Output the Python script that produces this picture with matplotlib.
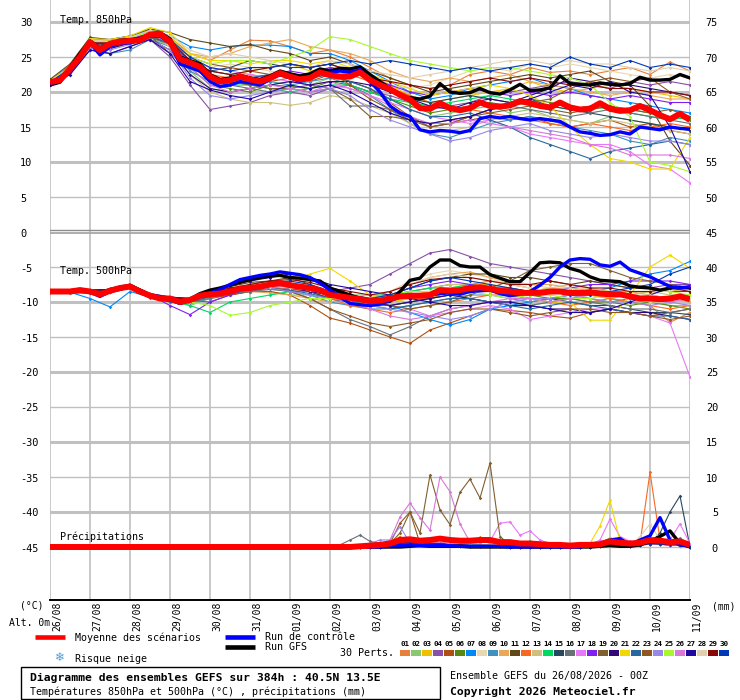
import matplotlib
matplotlib.use("Agg")
import matplotlib.pyplot as plt
from matplotlib.lines import Line2D
from matplotlib.patches import Rectangle

# ---------------- data ----------------
dates = ["26/08", "27/08", "28/08", "29/08", "30/08", "31/08", "01/09", "02/09", "03/09",
         "04/09", "05/09", "06/09", "07/09", "08/09", "09/09", "10/09", "11/09"]

pert_labels = ["01", "02", "03", "04", "05", "06", "07", "08", "09", "10",
               "11", "12", "13", "14", "15", "16", "17", "18", "19", "20",
               "21", "22", "23", "24", "25", "26", "27", "28", "29", "30"]
pert_colors = ["#E8803A", "#88C870", "#F0C000", "#8850A8", "#B05010", "#588810", "#0088F8",
               "#E8D8B0", "#4090C0", "#E8A858", "#604818", "#F86820", "#D0C080", "#00D860",
               "#284860", "#687078", "#E878F8", "#8020F0", "#806030", "#300878", "#F0D800",
               "#2868A0", "#905820", "#9888E8", "#A8F830", "#D878D8", "#2008A0", "#E0D0B0",
               "#880808", "#0038B8"]

hours6 = list(range(0, 385, 6))
hours12 = list(range(0, 385, 12))
hours_pr_pert = list(range(168, 385, 6))

# mean / control / GFS (6 h)
mean850 = [21.4, 21.7, 23.3, 25.0, 27.1, 26.0, 26.9, 27.2, 27.3, 27.4,
           28.2, 28.3, 27.2, 24.7, 24.2, 23.6, 22.2, 21.5, 21.7, 22.2,
           21.8, 21.5, 22.0, 22.7, 22.2, 21.8, 22.0, 22.8, 22.4, 22.2,
           22.2, 22.8, 21.7, 21.0, 20.4, 19.6, 18.9, 17.7, 17.6, 18.4,
           17.7, 17.4, 17.7, 18.5, 18.0, 17.9, 18.1, 18.7, 18.4, 18.0,
           17.8, 18.5, 17.8, 17.5, 17.6, 18.4, 17.6, 17.3, 17.4, 18.0,
           17.4, 16.7, 16.1, 16.9, 16.0]
ctrl850 = [21.2, 21.5, 23.0, 25.0, 27.0, 25.3, 26.5, 27.0, 27.0, 27.5,
           28.0, 28.0, 27.0, 24.0, 23.5, 23.0, 21.5, 20.8, 21.0, 21.5,
           21.3, 21.0, 21.8, 22.5, 22.0, 21.5, 22.0, 22.7, 22.8, 23.0,
           22.8, 23.2, 21.5, 20.0, 18.0, 17.0, 16.5, 14.6, 14.3, 14.5,
           14.4, 14.2, 14.5, 16.2, 16.5, 16.3, 16.5, 16.2, 16.0, 16.2,
           16.0, 15.8, 15.0, 14.3, 14.1, 13.8, 13.9, 14.3, 14.0, 15.0,
           14.8, 14.6, 15.0, 14.8, 14.7]
gfs850 = [21.0, 21.4, 23.5, 25.5, 27.3, 26.3, 27.0, 27.4, 27.5, 27.6,
          28.3, 28.5, 27.6, 25.0, 24.5, 24.0, 22.5, 21.8, 22.0, 22.4,
          22.0, 21.8, 22.3, 23.0, 22.6, 22.3, 22.6, 23.3, 23.0, 23.4,
          23.3, 23.6, 22.5, 21.5, 20.5, 19.4, 19.2, 19.0, 19.4, 21.2,
          20.0, 19.8, 19.9, 20.5, 19.9, 19.7, 20.3, 21.1, 20.2, 20.3,
          20.6, 22.3, 21.2, 21.1, 21.0, 21.3, 21.1, 21.0, 21.2, 22.1,
          21.7, 21.7, 21.8, 22.5, 22.0]
mean500 = [-8.5, -8.5, -8.5, -8.3, -8.5, -8.9, -8.4, -8.0, -7.8, -8.5,
           -9.1, -9.5, -9.5, -10.0, -9.7, -9.1, -8.9, -8.8, -8.5, -8.1,
           -8.0, -7.8, -7.5, -7.3, -7.6, -7.8, -8.0, -8.3, -9.0, -9.2,
           -9.4, -9.6, -9.9, -9.8, -9.5, -9.2, -9.1, -9.1, -9.0, -8.3,
           -8.4, -8.3, -8.0, -7.9, -8.1, -8.4, -8.5, -8.7, -8.7, -8.7,
           -8.5, -8.5, -8.7, -8.7, -8.6, -8.8, -8.9, -8.9, -9.2, -9.5,
           -9.5, -9.6, -9.5, -9.2, -9.6]
ctrl500 = [-8.4, -8.6, -8.6, -8.4, -8.6, -9.2, -8.5, -8.2, -7.8, -8.6,
           -9.2, -9.6, -9.7, -10.2, -9.8, -9.2, -8.7, -8.2, -7.5, -6.8,
           -6.5, -6.2, -6.0, -5.7, -5.9, -6.1, -6.5, -7.3, -8.3, -9.3,
           -10.2, -10.4, -10.5, -10.3, -9.8, -9.3, -9.0, -9.1, -9.0, -8.8,
           -8.7, -8.9, -8.5, -8.4, -8.3, -8.8, -9.1, -8.9, -8.5, -7.6,
           -6.5, -5.0, -4.0, -3.8, -3.9, -4.7, -4.9, -4.3, -5.4, -5.9,
           -6.4, -7.1, -7.8, -8.0, -7.8]
gfs500 = [-8.6, -8.6, -8.4, -8.2, -8.5, -8.8, -8.2, -7.9, -7.6, -8.3,
          -9.0, -9.4, -9.6, -10.2, -9.6, -8.8, -8.3, -8.0, -7.6, -7.2,
          -6.8, -6.5, -6.3, -6.2, -6.5, -6.6, -6.8, -7.0, -8.0, -8.5,
          -9.0, -9.5, -9.9, -10.0, -9.9, -8.5, -6.9, -6.6, -5.0, -4.0,
          -4.0, -4.8, -5.0, -5.0, -6.1, -6.6, -7.1, -7.1, -5.8, -4.4,
          -4.3, -4.4, -5.2, -5.6, -6.4, -6.9, -7.0, -7.1, -7.7, -7.9,
          -8.0, -8.3, -8.0, -7.9, -8.0]
mean_pr = [0, 0, 0, 0, 0, 0, 0, 0, 0, 0,
           0, 0, 0, 0, 0, 0, 0, 0, 0, 0,
           0, 0, 0, 0, 0, 0, 0, 0, 0, 0,
           0, 0.1, 0.2, 0.3, 0.5, 1.0, 1.1, 0.9, 1.0, 1.2,
           1.0, 0.9, 0.9, 1.0, 1.0, 0.7, 0.7, 0.5, 0.5, 0.4,
           0.3, 0.3, 0.2, 0.3, 0.3, 0.4, 0.8, 0.6, 0.5, 0.6,
           1.0, 0.9, 0.7, 0.8, 0.3]
ctrl_pr = [0, 0, 0, 0, 0, 0, 0, 0, 0, 0,
           0, 0, 0, 0, 0, 0, 0, 0, 0, 0,
           0, 0, 0, 0, 0, 0, 0, 0, 0, 0,
           0, 0, 0, 0, 0.1, 0.2, 0.3, 0.2, 0.2, 0.2,
           0.2, 0.1, 0.1, 0.1, 0.1, 0.1, 0, 0, 0, 0,
           0, 0, 0, 0, 0.3, 0.5, 1.0, 1.2, 0.3, 1.0,
           1.6, 4.2, 1.0, 0.3, 0.1]
gfs_pr = [0, 0, 0, 0, 0, 0, 0, 0, 0, 0,
          0, 0, 0, 0, 0, 0, 0, 0, 0, 0,
          0, 0, 0, 0, 0, 0, 0, 0, 0, 0,
          0, 0, 0, 0, 0, 0, 0.1, 0.2, 0.1, 0.1,
          0.1, 0.1, 0, 0, 0, 0, 0, 0, 0, 0,
          0, 0, 0, 0, 0, 0.1, 0.2, 0.1, 0.1, 0.3,
          0.8, 1.5, 2.3, 0.5, 0]

# perturbations, 850 hPa (12 h)
t850_01 = [21.6, 23.5, 27.4, 27.2, 27.8, 28.6, 27.8, 25.5, 24.5, 26.0, 27.4, 27.3, 26.5, 25.5, 26.0, 25.0, 23.5, 22.0, 21.0, 20.5, 21.0, 22.5, 23.0, 22.5, 23.5, 22.8, 23.0, 22.5, 23.0, 23.5, 22.5, 24.3, 23.0]
t850_02 = [21.2, 23.0, 26.5, 26.5, 27.0, 27.8, 26.5, 23.0, 20.5, 20.0, 20.5, 21.0, 21.5, 21.0, 22.0, 21.5, 20.5, 19.0, 17.5, 16.5, 17.0, 17.5, 18.0, 17.0, 17.5, 16.5, 16.0, 15.5, 16.5, 16.0, 15.5, 15.0, 14.5]
t850_03 = [21.5, 23.6, 27.5, 27.3, 27.6, 29.0, 28.0, 25.0, 23.0, 22.5, 23.0, 23.5, 24.0, 23.0, 23.5, 23.0, 22.5, 21.0, 19.5, 18.5, 19.0, 19.5, 20.0, 20.5, 21.5, 20.5, 20.0, 20.5, 21.0, 20.5, 20.0, 19.5, 19.0]
t850_04 = [21.0, 22.5, 26.0, 25.5, 26.5, 27.5, 25.0, 21.0, 17.5, 18.0, 18.5, 19.5, 20.0, 19.5, 20.5, 21.0, 20.0, 19.5, 18.5, 17.5, 18.0, 18.5, 19.5, 20.0, 20.5, 21.0, 21.5, 21.0, 20.5, 21.5, 21.0, 21.5, 21.0]
t850_05 = [21.3, 23.0, 26.8, 26.5, 27.0, 28.0, 27.0, 24.0, 22.0, 21.5, 21.0, 21.5, 22.0, 21.5, 22.5, 21.5, 20.5, 18.5, 16.5, 15.0, 15.5, 16.0, 16.5, 16.0, 16.5, 15.5, 15.0, 15.5, 16.0, 15.0, 15.5, 14.5, 14.0]
t850_06 = [21.4, 23.2, 26.8, 26.5, 27.2, 28.0, 26.8, 23.5, 21.0, 20.5, 20.0, 21.0, 20.8, 20.5, 21.5, 21.0, 20.0, 19.0, 18.0, 17.0, 17.5, 18.0, 18.5, 18.0, 19.0, 18.5, 18.0, 17.5, 18.0, 17.5, 17.0, 16.5, 16.0]
t850_07 = [21.6, 23.8, 27.5, 27.5, 28.0, 28.8, 28.0, 26.5, 26.0, 26.5, 26.7, 26.7, 26.5, 25.5, 25.5, 24.5, 23.0, 21.5, 20.0, 19.0, 19.5, 20.5, 21.0, 21.5, 22.0, 21.0, 20.5, 19.5, 19.0, 18.5, 18.0, 17.5, 17.0]
t850_08 = [21.2, 23.0, 26.5, 26.5, 27.5, 28.5, 27.5, 24.5, 23.5, 24.0, 23.5, 23.0, 22.5, 22.0, 23.0, 22.5, 21.5, 21.0, 20.5, 21.0, 22.0, 23.0, 23.5, 23.0, 24.0, 23.5, 24.0, 23.5, 23.0, 22.5, 22.0, 22.5, 22.0]
t850_09 = [21.0, 22.8, 26.0, 25.5, 26.0, 27.5, 26.5, 23.0, 21.5, 21.0, 21.5, 21.5, 21.0, 21.5, 22.0, 21.0, 19.5, 17.5, 15.5, 14.0, 13.5, 14.5, 15.5, 16.0, 16.5, 16.0, 15.0, 14.5, 14.0, 13.0, 12.5, 13.5, 13.0]
t850_10 = [21.5, 23.4, 27.2, 27.0, 27.5, 28.5, 27.5, 25.5, 25.0, 25.5, 26.5, 27.0, 27.5, 26.5, 26.0, 25.5, 24.5, 23.0, 22.0, 21.5, 22.0, 21.5, 22.0, 22.5, 21.5, 21.0, 20.5, 20.0, 19.5, 20.0, 19.5, 19.0, 19.0]
t850_11 = [21.8, 24.0, 27.8, 27.5, 28.0, 29.0, 28.5, 27.5, 27.0, 26.5, 26.8, 26.0, 25.5, 24.5, 25.0, 24.0, 23.0, 22.0, 21.0, 20.0, 20.5, 21.0, 21.5, 22.0, 22.5, 22.0, 22.5, 23.0, 21.5, 21.0, 18.0, 13.0, 9.5]
t850_12 = [21.3, 23.1, 26.8, 26.5, 27.2, 28.0, 27.0, 24.0, 22.5, 22.0, 22.5, 22.0, 22.5, 22.0, 22.5, 22.5, 21.5, 20.5, 19.5, 18.5, 18.0, 17.5, 17.0, 16.5, 16.0, 15.5, 15.0, 15.5, 15.0, 14.5, 15.0, 15.5, 15.0]
t850_13 = [21.2, 22.8, 26.5, 26.2, 26.8, 28.0, 26.5, 22.5, 20.0, 19.0, 18.5, 18.5, 18.1, 18.5, 19.5, 19.0, 18.0, 17.0, 15.5, 14.0, 14.5, 15.0, 16.0, 16.5, 17.0, 16.5, 16.0, 15.5, 16.0, 15.5, 15.0, 14.5, 14.0]
t850_14 = [21.4, 23.2, 27.0, 26.8, 27.2, 28.0, 27.0, 24.5, 22.5, 21.0, 21.0, 20.5, 20.0, 20.5, 21.0, 21.0, 20.0, 19.0, 18.5, 18.0, 18.5, 19.0, 19.5, 19.0, 18.5, 18.0, 17.5, 18.0, 17.5, 17.0, 16.5, 16.0, 16.5]
t850_15 = [21.3, 23.0, 26.7, 26.5, 27.0, 27.8, 27.0, 24.5, 23.0, 23.5, 24.5, 24.0, 23.5, 23.5, 24.0, 23.0, 22.0, 20.5, 19.0, 18.5, 19.0, 19.5, 19.0, 18.5, 19.0, 18.0, 17.5, 17.0, 16.5, 16.0, 15.5, 15.0, 14.5]
t850_16 = [21.2, 23.0, 26.5, 26.3, 27.0, 27.8, 26.8, 24.0, 22.0, 21.0, 20.5, 20.0, 20.5, 21.0, 20.5, 18.0, 18.0, 17.5, 16.5, 15.0, 15.5, 16.5, 17.5, 18.0, 17.5, 17.0, 16.5, 17.0, 17.5, 17.0, 16.5, 16.0, 15.5]
t850_17 = [21.4, 23.3, 27.0, 27.0, 27.5, 28.5, 27.5, 24.5, 23.5, 23.0, 22.5, 22.0, 21.5, 21.0, 21.5, 20.5, 19.5, 18.5, 17.5, 16.5, 16.0, 15.5, 16.0, 15.0, 14.0, 13.5, 13.0, 12.5, 12.5, 11.5, 9.5, 9.0, 7.0]
t850_18 = [21.3, 23.2, 27.0, 26.8, 27.5, 28.5, 27.5, 24.0, 22.0, 21.5, 22.0, 22.5, 23.0, 22.5, 23.5, 23.0, 22.0, 21.0, 20.0, 19.5, 20.0, 20.5, 20.0, 19.5, 20.0, 19.5, 20.0, 19.5, 19.0, 19.5, 19.0, 18.5, 18.5]
t850_19 = [21.5, 23.5, 27.0, 27.0, 27.5, 28.0, 25.5, 23.5, 22.0, 21.5, 21.0, 20.5, 20.5, 20.0, 20.5, 19.0, 16.5, 16.5, 16.0, 15.5, 16.0, 16.5, 17.0, 17.5, 18.0, 17.5, 17.0, 17.5, 18.0, 17.5, 17.0, 17.5, 16.5]
t850_20 = [21.2, 22.8, 26.5, 26.2, 27.0, 27.5, 26.0, 22.5, 20.5, 20.0, 20.5, 21.0, 21.5, 21.0, 21.5, 21.5, 21.0, 20.0, 19.0, 18.0, 17.5, 18.5, 19.0, 18.5, 19.5, 20.5, 22.0, 21.5, 21.0, 21.0, 20.5, 20.0, 19.5]
t850_21 = [21.6, 23.6, 27.6, 27.5, 28.0, 29.2, 28.5, 25.5, 24.5, 24.5, 24.0, 24.5, 24.5, 24.0, 24.5, 23.5, 22.5, 21.5, 20.5, 19.5, 20.0, 20.5, 21.0, 20.5, 19.5, 18.0, 15.0, 12.5, 10.5, 10.0, 9.0, 9.0, 13.5]
t850_22 = [21.3, 23.1, 26.8, 26.7, 27.2, 28.0, 27.0, 24.5, 23.0, 22.5, 22.0, 22.5, 22.5, 22.0, 22.5, 21.5, 20.5, 19.0, 17.5, 16.5, 16.5, 17.0, 16.0, 15.0, 13.5, 12.5, 11.5, 10.5, 11.5, 12.0, 12.5, 13.0, 12.5]
t850_23 = [21.5, 23.2, 26.8, 26.8, 27.3, 28.0, 27.2, 25.0, 24.0, 23.5, 23.0, 22.5, 22.0, 22.5, 23.0, 21.0, 19.0, 17.5, 16.0, 15.0, 15.5, 16.5, 17.5, 18.0, 18.5, 19.0, 20.5, 21.5, 22.0, 21.5, 22.0, 20.0, 19.0]
t850_24 = [21.2, 22.9, 26.5, 26.0, 26.8, 27.5, 26.0, 22.0, 19.5, 19.0, 19.5, 20.0, 20.5, 20.0, 20.5, 19.5, 17.5, 16.0, 15.0, 14.0, 13.0, 13.5, 14.5, 15.0, 15.5, 14.5, 14.0, 13.5, 14.0, 13.5, 13.0, 13.0, 12.5]
t850_25 = [21.5, 23.4, 27.3, 27.2, 27.8, 28.5, 27.5, 25.0, 24.0, 24.5, 24.5, 24.0, 25.0, 26.0, 27.9, 27.5, 26.5, 25.5, 24.5, 24.0, 23.5, 23.0, 23.5, 23.5, 23.0, 22.5, 22.0, 21.0, 18.5, 16.5, 10.0, 9.5, 8.6]
t850_26 = [21.3, 23.0, 26.8, 26.5, 27.3, 28.3, 27.0, 23.5, 21.0, 20.0, 20.5, 21.0, 20.5, 20.0, 21.0, 20.5, 19.5, 18.0, 16.5, 15.5, 15.5, 16.0, 15.5, 15.0, 14.5, 14.0, 13.5, 12.5, 12.0, 11.0, 11.0, 11.0, 10.5]
t850_27 = [21.0, 22.5, 26.0, 25.5, 26.5, 27.5, 25.5, 21.5, 20.3, 19.5, 19.0, 20.0, 21.0, 20.5, 21.0, 20.0, 18.5, 17.0, 16.0, 15.5, 16.0, 16.5, 17.5, 18.0, 19.0, 20.0, 21.0, 20.5, 21.5, 20.0, 19.5, 15.0, 8.6]
t850_28 = [21.5, 23.5, 27.5, 27.2, 27.8, 28.8, 28.0, 26.0, 25.0, 25.5, 25.0, 24.5, 24.0, 23.5, 24.5, 24.0, 23.0, 22.5, 22.0, 22.5, 23.0, 23.5, 24.0, 24.5, 24.5, 24.0, 24.5, 24.0, 24.0, 23.5, 23.0, 23.5, 23.0]
t850_29 = [21.4, 23.3, 27.0, 27.0, 27.5, 28.3, 27.3, 24.5, 23.0, 22.5, 23.0, 23.5, 24.0, 23.5, 24.0, 23.0, 22.0, 21.5, 21.0, 20.5, 21.0, 21.5, 22.0, 21.5, 22.0, 21.5, 21.0, 21.0, 20.5, 20.5, 20.0, 20.0, 19.5]
t850_30 = [21.4, 23.3, 27.0, 26.8, 27.3, 28.3, 27.5, 25.0, 23.5, 23.0, 23.5, 23.5, 24.0, 23.5, 24.0, 24.5, 24.0, 24.5, 24.0, 23.5, 23.0, 23.5, 23.0, 23.5, 24.0, 23.5, 25.0, 24.0, 23.5, 24.5, 23.5, 24.0, 23.5]

# perturbations, 500 hPa (12 h)
t500_01 = [-8.3, -8.4, -8.3, -8.2, -7.5, -9.0, -9.5, -9.5, -8.5, -8.0, -7.8, -7.5, -7.8, -8.5, -9.5, -10.0, -10.5, -10.0, -9.5, -9.5, -8.5, -7.5, -7.0, -7.5, -8.0, -8.5, -9.0, -9.0, -9.5, -10.0, -10.5, -12.9, -11.5]
t500_02 = [-8.6, -8.6, -8.5, -8.6, -8.0, -9.3, -10.0, -10.5, -9.5, -9.0, -8.5, -8.5, -9.0, -9.0, -9.5, -10.0, -10.5, -10.5, -10.0, -9.5, -9.0, -9.5, -10.0, -10.5, -10.5, -10.0, -9.5, -9.0, -9.5, -10.0, -10.0, -10.5, -10.5]
t500_03 = [-8.5, -8.4, -8.6, -8.3, -7.8, -9.0, -9.5, -9.8, -9.0, -8.5, -8.0, -7.8, -8.0, -8.3, -8.8, -9.2, -9.5, -9.5, -9.0, -8.5, -8.0, -7.5, -7.5, -8.0, -8.5, -8.0, -8.5, -9.0, -9.5, -9.0, -8.5, -8.5, -8.0]
t500_04 = [-8.4, -8.5, -8.4, -8.3, -7.6, -8.9, -9.5, -9.8, -10.0, -9.0, -8.5, -8.0, -8.0, -8.5, -8.5, -8.0, -7.5, -6.0, -4.5, -3.0, -2.5, -3.5, -4.5, -5.0, -5.5, -6.0, -6.5, -7.0, -7.5, -8.0, -8.0, -7.5, -7.5]
t500_05 = [-8.6, -8.7, -8.7, -8.6, -8.0, -9.4, -10.0, -10.0, -9.5, -9.0, -8.5, -8.5, -9.0, -10.5, -12.3, -13.0, -14.0, -15.0, -15.9, -14.0, -13.0, -12.0, -11.0, -11.2, -11.5, -12.0, -12.3, -11.5, -11.0, -11.5, -12.0, -11.5, -11.0]
t500_06 = [-8.5, -8.5, -8.4, -8.4, -7.8, -9.2, -9.7, -9.8, -9.0, -8.3, -7.5, -7.0, -7.5, -8.0, -9.0, -9.5, -9.5, -9.0, -8.5, -8.0, -7.5, -7.5, -8.0, -8.5, -9.0, -9.5, -9.5, -10.0, -10.0, -10.5, -10.0, -10.5, -11.0]
t500_07 = [-8.5, -8.6, -9.5, -10.7, -8.5, -9.3, -9.8, -9.8, -9.0, -8.5, -8.0, -7.8, -8.0, -8.5, -9.5, -10.0, -10.5, -10.5, -11.5, -12.5, -13.3, -12.5, -11.0, -10.5, -10.0, -9.5, -9.0, -8.5, -8.0, -7.0, -6.0, -5.5, -4.2]
t500_08 = [-8.4, -8.4, -8.3, -8.2, -7.6, -8.9, -9.3, -9.5, -8.7, -8.2, -7.8, -7.5, -7.8, -8.0, -8.5, -9.0, -9.5, -8.5, -7.0, -6.0, -5.5, -6.0, -6.5, -7.5, -8.0, -8.5, -8.0, -8.5, -9.0, -9.5, -10.0, -10.0, -10.5]
t500_09 = [-8.6, -8.6, -8.7, -8.5, -8.0, -9.2, -9.6, -10.2, -9.5, -8.8, -8.3, -8.0, -8.5, -9.0, -10.0, -10.5, -11.0, -11.0, -10.5, -10.0, -9.5, -9.0, -9.0, -9.5, -10.0, -9.5, -9.0, -9.5, -10.0, -9.5, -9.0, -9.5, -9.0]
t500_10 = [-8.5, -8.5, -8.4, -8.3, -7.7, -9.0, -9.5, -9.5, -8.8, -8.5, -8.5, -8.7, -9.0, -9.5, -10.0, -9.5, -9.0, -8.5, -7.5, -6.5, -6.0, -5.7, -6.5, -7.0, -7.5, -7.5, -8.0, -8.0, -8.5, -8.5, -9.0, -9.5, -10.0]
t500_11 = [-8.3, -8.3, -8.3, -8.2, -7.5, -8.8, -9.3, -9.5, -8.5, -7.8, -7.2, -7.0, -6.5, -7.5, -8.5, -9.0, -9.5, -9.0, -8.0, -7.0, -6.5, -6.0, -6.0, -6.5, -6.5, -7.0, -7.5, -7.0, -7.5, -8.0, -8.0, -8.5, -8.5]
t500_12 = [-8.6, -8.5, -8.6, -8.5, -7.9, -9.1, -9.6, -9.9, -9.2, -8.7, -8.2, -8.0, -8.2, -8.5, -9.5, -10.5, -11.0, -11.5, -11.0, -10.5, -10.0, -9.5, -9.0, -9.0, -9.5, -10.0, -10.5, -10.0, -9.5, -10.0, -10.5, -11.0, -10.5]
t500_13 = [-8.4, -8.5, -8.4, -8.3, -7.7, -9.0, -9.5, -9.7, -8.8, -8.3, -7.8, -7.6, -7.8, -8.5, -9.0, -9.5, -9.5, -9.0, -8.5, -8.0, -7.5, -7.5, -8.0, -8.0, -8.5, -8.0, -7.5, -8.0, -8.5, -9.0, -8.5, -9.0, -9.0]
t500_14 = [-8.5, -8.6, -8.5, -8.4, -7.9, -9.2, -9.7, -10.5, -11.5, -10.0, -9.5, -9.0, -8.5, -8.5, -8.8, -9.0, -9.0, -9.0, -8.5, -8.0, -8.0, -7.5, -8.0, -8.5, -8.5, -8.5, -8.0, -8.5, -9.0, -9.0, -9.5, -9.5, -9.5]
t500_15 = [-8.5, -8.5, -8.6, -8.4, -7.8, -9.1, -9.6, -9.7, -9.0, -8.6, -8.2, -7.8, -8.0, -8.5, -9.5, -10.0, -10.0, -10.5, -10.0, -9.5, -9.0, -8.5, -8.5, -9.0, -9.5, -9.5, -10.0, -10.5, -10.5, -11.0, -11.5, -11.5, -11.8]
t500_16 = [-8.6, -8.7, -8.6, -8.6, -8.0, -9.3, -9.8, -10.0, -9.3, -8.8, -8.5, -8.2, -8.5, -9.5, -11.0, -12.5, -13.5, -14.7, -13.5, -12.0, -11.0, -10.5, -10.0, -10.0, -10.5, -10.0, -9.5, -10.0, -10.5, -11.0, -11.0, -11.5, -11.0]
t500_17 = [-8.5, -8.5, -8.5, -8.4, -7.8, -9.1, -9.6, -9.8, -9.0, -8.5, -8.0, -7.8, -8.0, -8.5, -9.0, -9.5, -10.0, -10.5, -11.0, -12.0, -11.5, -11.0, -10.5, -11.0, -12.5, -12.0, -11.5, -11.0, -11.0, -11.5, -12.0, -13.0, -20.7]
t500_18 = [-8.5, -8.4, -8.5, -8.3, -7.7, -9.0, -10.5, -11.8, -10.0, -9.0, -8.0, -7.5, -7.5, -8.0, -8.5, -9.0, -9.5, -9.0, -8.0, -7.5, -7.0, -7.5, -8.0, -8.0, -8.5, -8.5, -8.0, -7.5, -7.5, -7.0, -7.0, -7.0, -7.5]
t500_19 = [-8.4, -8.4, -8.3, -8.3, -7.6, -8.9, -9.4, -9.5, -8.8, -8.2, -7.8, -7.5, -7.8, -8.3, -9.0, -9.5, -10.0, -10.5, -11.0, -10.5, -10.0, -9.0, -8.0, -7.0, -5.5, -5.0, -4.5, -4.5, -5.5, -6.5, -7.0, -7.5, -8.0]
t500_20 = [-8.5, -8.5, -8.5, -8.4, -7.8, -9.1, -9.6, -9.8, -9.0, -8.4, -8.0, -7.8, -8.0, -8.5, -9.0, -9.5, -10.0, -10.5, -10.0, -9.5, -9.0, -9.5, -10.0, -10.5, -10.5, -11.0, -11.0, -11.5, -11.0, -11.5, -11.5, -12.0, -12.5]
t500_21 = [-8.5, -8.5, -8.4, -8.3, -7.7, -9.0, -9.5, -9.6, -8.8, -8.3, -7.8, -7.5, -7.0, -6.0, -5.2, -7.0, -9.0, -10.0, -9.5, -9.0, -8.5, -8.0, -8.5, -9.0, -9.5, -10.0, -10.0, -12.6, -12.6, -9.0, -5.0, -3.3, -5.2]
t500_22 = [-8.6, -8.6, -8.7, -8.5, -8.0, -9.3, -9.8, -10.0, -9.2, -8.7, -8.3, -8.0, -8.3, -8.8, -9.5, -10.0, -10.5, -11.0, -10.5, -10.0, -9.5, -9.5, -10.0, -10.5, -11.0, -10.5, -10.0, -10.5, -11.0, -11.5, -12.0, -12.0, -12.5]
t500_23 = [-8.5, -8.6, -8.6, -8.5, -7.9, -9.2, -9.7, -9.9, -9.0, -8.5, -8.0, -8.0, -8.5, -9.5, -11.0, -12.0, -13.0, -13.5, -13.0, -12.5, -11.5, -11.0, -11.0, -11.5, -12.0, -11.5, -11.0, -11.0, -11.5, -11.5, -12.0, -12.5, -12.0]
t500_24 = [-8.6, -8.6, -8.6, -8.5, -7.9, -9.2, -9.6, -9.8, -9.0, -8.6, -8.2, -8.0, -8.5, -9.0, -9.5, -10.0, -10.5, -11.0, -11.5, -12.0, -12.5, -12.0, -11.0, -10.0, -9.5, -9.5, -9.0, -9.5, -10.0, -10.0, -10.5, -10.0, -10.5]
t500_25 = [-8.5, -8.5, -8.4, -8.4, -7.8, -9.1, -9.6, -10.0, -10.5, -11.9, -11.5, -10.5, -10.0, -9.5, -9.5, -9.5, -9.5, -9.0, -8.5, -8.5, -8.0, -8.5, -9.0, -9.5, -9.0, -9.0, -9.5, -9.5, -9.0, -8.5, -8.5, -8.5, -9.0]
t500_26 = [-8.5, -8.5, -8.5, -8.4, -7.8, -9.1, -9.5, -9.7, -8.8, -8.3, -7.9, -7.6, -7.8, -8.3, -9.0, -10.0, -11.0, -12.0, -12.5, -12.0, -11.0, -10.5, -10.0, -9.5, -9.5, -10.0, -9.5, -9.0, -8.5, -9.0, -9.5, -10.0, -9.5]
t500_27 = [-8.4, -8.4, -8.3, -8.2, -7.5, -8.8, -9.3, -9.5, -8.5, -7.5, -7.0, -6.5, -6.0, -6.5, -7.5, -8.0, -8.5, -9.0, -9.5, -10.0, -10.5, -10.5, -10.0, -10.0, -10.5, -11.0, -11.5, -11.5, -11.0, -10.0, -9.0, -8.0, -8.0]
t500_28 = [-8.5, -8.5, -8.5, -8.4, -7.7, -9.0, -9.5, -9.7, -8.8, -8.3, -8.0, -7.8, -8.0, -8.3, -8.8, -9.0, -9.0, -8.5, -7.5, -6.5, -6.0, -6.5, -7.0, -7.0, -7.5, -8.0, -8.0, -8.5, -8.5, -9.0, -9.0, -9.5, -9.5]
t500_29 = [-8.4, -8.4, -8.4, -8.3, -7.6, -8.9, -9.4, -9.6, -8.7, -8.0, -7.5, -7.0, -6.8, -7.2, -8.0, -8.5, -9.0, -8.5, -7.5, -6.8, -6.5, -6.5, -7.0, -7.5, -7.5, -7.0, -7.5, -8.0, -8.0, -8.5, -8.5, -8.0, -8.5]
t500_30 = [-8.5, -8.6, -8.5, -8.4, -7.8, -9.1, -9.6, -9.8, -9.0, -8.4, -7.8, -7.3, -7.0, -7.5, -8.5, -9.0, -9.5, -9.0, -8.0, -7.0, -6.5, -7.0, -7.5, -8.0, -8.5, -8.5, -9.0, -9.0, -8.5, -8.0, -7.5, -6.0, -5.0]

# perturbations, precipitation mm (6 h, from 02/09 00Z; dry before)
pr_01 = [0, 0, 0, 0, 0, 0, 0.3, 0.6, 0.5, 0.3, 0.4, 0.3, 0.2, 0.2, 0.3, 0.2, 0.2, 0.1, 0, 0, 0, 0, 0, 0, 0, 0, 0.2, 0.4, 0.6, 0.3, 0.2, 0.5, 0.8, 0.6, 0.4, 0.3, 0]
pr_02 = [0, 0, 0, 0, 0, 0.2, 0.4, 0.8, 0.6, 0.4, 0.5, 0.6, 0.4, 0.3, 0.2, 0.2, 0.3, 0.2, 0.1, 0, 0, 0, 0, 0, 0, 0, 0, 0.3, 0.8, 0.5, 0.2, 0.3, 0.5, 0.4, 0.3, 0.2, 0]
pr_03 = [0, 0, 0, 0, 0, 0, 0.2, 0.5, 0.7, 0.5, 0.3, 0.4, 0.5, 0.3, 0.2, 0.3, 0.2, 0.1, 0, 0, 0, 0, 0, 0, 0, 0, 0, 0.2, 0.5, 0.3, 0.2, 0.4, 0.6, 0.5, 0.8, 0.4, 0]
pr_04 = [0, 0, 0, 0, 0, 0, 0.1, 0.4, 0.9, 0.6, 0.4, 0.5, 0.3, 0.2, 0.3, 0.3, 0.2, 0.2, 0.1, 0, 0, 0, 0, 0, 0, 0, 0.1, 0.3, 0.5, 0.3, 0.2, 0.3, 0.5, 0.6, 0.4, 0.3, 0]
pr_05 = [0, 0, 0, 0, 0, 0.2, 0.3, 0.6, 0.8, 0.5, 0.6, 0.4, 0.3, 0.4, 0.3, 0.2, 0.2, 0.2, 0.1, 0, 0, 0, 0, 0, 0, 0, 0, 0.2, 0.6, 0.4, 0.2, 0.5, 0.6, 0.5, 0.5, 0.4, 0.1]
pr_06 = [0, 0, 0, 0, 0, 0, 0.2, 0.5, 0.6, 0.4, 0.5, 0.6, 0.4, 0.3, 0.3, 0.2, 0.3, 0.2, 0.1, 0, 0, 0, 0, 0, 0, 0, 0.2, 0.5, 1.3, 0.6, 0.3, 0.4, 0.6, 0.5, 0.4, 0.3, 0]
pr_07 = [0, 0, 0, 0, 0, 0, 0.2, 0.6, 0.8, 0.6, 0.4, 0.5, 0.3, 0.2, 0.2, 0.2, 0.2, 0.1, 0, 0, 0, 0, 0, 0, 0, 0, 0, 0.3, 0.7, 0.4, 0.2, 0.3, 0.5, 0.5, 0.6, 0.5, 0.1]
pr_08 = [0, 0, 0, 0, 0, 0, 0.1, 0.4, 0.5, 0.3, 0.3, 0.4, 0.2, 0.2, 0.1, 0.2, 0.2, 0.1, 0, 0, 0, 0, 0, 0, 0, 0, 0.1, 0.2, 0.5, 0.3, 0.2, 0.3, 0.4, 0.3, 0.3, 0.2, 0]
pr_09 = [0, 0, 0, 0, 0, 0.2, 0.3, 0.7, 0.9, 0.6, 0.5, 0.6, 0.4, 0.3, 0.3, 0.3, 0.2, 0.2, 0.1, 0, 0, 0, 0, 0, 0, 0, 0, 0.3, 0.6, 0.4, 0.2, 0.4, 0.5, 0.6, 0.5, 1.3, 0.2]
pr_10 = [0, 0, 0, 0, 0, 0, 0.2, 0.5, 0.6, 0.4, 0.3, 0.4, 0.3, 0.2, 0.2, 0.2, 0.1, 0.1, 0, 0, 0, 0, 0, 0, 0, 0, 0.1, 0.2, 0.4, 0.3, 0.2, 0.3, 0.5, 0.4, 0.3, 0.3, 0]
pr_11 = [0, 0, 0, 0, 0, 0.2, 0.3, 0.6, 0.8, 0.5, 0.4, 0.5, 0.3, 0.3, 0.2, 0.2, 0.2, 0.1, 0, 0, 0, 0, 0, 0, 0, 0, 0, 0.2, 0.5, 0.3, 0.2, 0.3, 0.5, 0.4, 0.4, 0.3, 0]
pr_12 = [0, 0, 0, 0, 0, 0.2, 0.5, 1.5, 0.6, 0.4, 0.5, 0.6, 0.5, 0.4, 0.6, 1.4, 0.5, 0.3, 0.1, 0, 0, 0, 0, 0, 0, 0, 0.1, 0.3, 0.6, 0.4, 0.3, 0.5, 10.7, 1.0, 0.4, 0.3, 0.1]
pr_13 = [0, 0, 0, 0, 0, 0, 0.2, 0.5, 0.6, 0.4, 0.4, 0.3, 0.3, 0.2, 0.2, 0.2, 0.2, 0.1, 0, 0, 0, 0, 0, 0, 0, 0, 0.1, 0.3, 0.5, 0.3, 0.2, 0.3, 0.4, 0.4, 0.3, 0.2, 0]
pr_14 = [0, 0, 0, 0, 0, 0, 0.2, 0.6, 0.7, 0.5, 0.4, 0.5, 0.4, 0.3, 0.3, 0.2, 0.2, 0.2, 0.1, 0.5, 0.8, 0.4, 0.2, 0, 0, 0, 0.2, 0.5, 1.2, 0.5, 0.3, 0.4, 0.6, 0.5, 0.4, 0.3, 0]
pr_15 = [0, 0, 0, 0, 0, 0, 0.2, 0.4, 0.6, 0.4, 0.3, 0.4, 0.3, 0.2, 0.2, 0.2, 0.2, 0.1, 0, 0, 0, 0, 0, 0, 0, 0, 0, 0.2, 0.4, 0.3, 0.2, 0.3, 0.5, 2.0, 5.0, 7.3, 0]
pr_16 = [0, 0.3, 1.0, 1.7, 0.8, 0.5, 0.6, 0.4, 0.5, 0.3, 0.3, 0.4, 0.3, 0.2, 0.2, 0.2, 0.2, 0.1, 0, 0, 0, 0, 0, 0, 0, 0, 0, 0.2, 0.4, 0.3, 0.2, 0.3, 0.4, 0.4, 0.3, 0.2, 0]
pr_17 = [0, 0, 0, 0, 0, 0, 0.3, 0.6, 0.8, 0.5, 0.5, 0.6, 0.5, 0.4, 0.5, 0.6, 0.8, 3.4, 3.6, 1.7, 2.3, 1.0, 0.5, 0.2, 0, 0, 0.3, 1.0, 4.0, 1.5, 0.8, 0.5, 0.6, 0.8, 1.0, 3.3, 0.5]
pr_18 = [0, 0, 0, 0, 0, 0, 0.2, 0.5, 0.7, 0.4, 0.4, 0.5, 0.3, 0.3, 0.2, 0.2, 0.2, 0.1, 0, 0, 0, 0, 0, 0, 0, 0, 0, 0.2, 0.5, 0.3, 0.2, 0.3, 0.5, 0.4, 0.3, 0.3, 0]
pr_19 = [0, 0, 0, 0, 0, 0.2, 0.5, 2.0, 5.0, 2.0, 10.3, 5.3, 3.2, 7.8, 9.7, 7.0, 12.0, 1.5, 0.3, 0, 0, 0, 0, 0, 0, 0, 0, 0.2, 0.5, 0.3, 0.2, 0.3, 0.4, 0.4, 0.3, 0.2, 0]
pr_20 = [0, 0, 0, 0, 0, 0, 0.2, 0.5, 0.6, 0.4, 0.3, 0.4, 0.3, 0.2, 0.2, 0.2, 0.2, 0.1, 0, 0, 0, 0, 0, 0, 0, 0, 0, 0.3, 0.6, 0.4, 0.3, 0.4, 0.7, 0.9, 0.6, 0.3, 0]
pr_21 = [0, 0, 0, 0, 0, 0, 0.2, 0.5, 0.6, 0.4, 0.4, 0.5, 0.3, 0.2, 0.2, 0.2, 0.2, 0.1, 0, 0, 0, 0, 0, 0, 0, 0, 0.5, 3.0, 6.7, 0.8, 0.3, 0.3, 0.5, 0.4, 0.3, 0.3, 0]
pr_22 = [0, 0, 0, 0, 0, 0, 0.3, 0.6, 0.7, 0.5, 0.5, 0.4, 0.3, 0.3, 0.2, 0.2, 0.2, 0.1, 0, 0, 0, 0, 0, 0, 0, 0, 0.1, 0.3, 0.6, 0.4, 0.3, 0.4, 0.6, 0.5, 0.4, 0.3, 0]
pr_23 = [0, 0, 0, 0, 0, 0.3, 0.5, 3.4, 5.0, 0.5, 0.3, 0.4, 0.3, 0.2, 0.2, 0.2, 0.2, 0.1, 0, 0, 0, 0, 0, 0, 0, 0, 0, 0.2, 0.5, 0.3, 0.2, 0.3, 0.5, 0.4, 0.3, 0.3, 0]
pr_24 = [0, 0, 0, 0, 0.5, 1.0, 1.0, 2.9, 0.6, 0.3, 0.3, 0.4, 0.3, 0.2, 0.2, 0.2, 0.2, 0.1, 0, 0, 0, 0, 0, 0, 0, 0, 0, 0.2, 0.5, 0.3, 0.2, 0.3, 0.4, 0.4, 0.3, 0.2, 0]
pr_25 = [0, 0, 0, 0, 0, 0, 0.2, 0.4, 0.6, 0.4, 0.3, 0.4, 0.3, 0.2, 0.2, 0.2, 0.2, 0.1, 0, 0, 0, 0, 0, 0, 0, 0, 0.2, 0.4, 1.3, 0.5, 0.3, 0.3, 0.5, 0.4, 0.3, 0.2, 0]
pr_26 = [0, 0, 0, 0, 0, 0.5, 1.0, 4.3, 6.3, 4.2, 2.4, 10.0, 7.9, 3.3, 0.7, 1.0, 0.5, 0.4, 0.2, 0, 0, 0, 0, 0, 0, 0, 0, 0.2, 0.5, 0.3, 0.2, 0.3, 0.4, 0.5, 0.4, 0.3, 0]
pr_27 = [0, 0, 0, 0, 0, 0, 0.2, 0.5, 0.6, 0.4, 0.4, 0.5, 0.3, 0.3, 0.2, 0.2, 0.2, 0.1, 0, 0, 0, 0, 0, 0, 0, 0, 0, 0.2, 0.5, 0.3, 0.2, 0.3, 0.5, 0.4, 0.3, 0.3, 0]
pr_28 = [0, 0, 0, 0, 0, 0, 0.2, 0.5, 0.6, 0.4, 0.3, 0.4, 0.3, 0.2, 0.2, 0.2, 0.2, 0.1, 0, 0, 0, 0, 0, 0, 0, 0, 0, 0.2, 0.5, 0.3, 0.2, 1.5, 3.3, 1.0, 0.4, 0.3, 0]
pr_29 = [0, 0, 0, 0, 0, 0, 0.2, 0.5, 0.7, 0.4, 0.4, 0.5, 0.3, 0.3, 0.2, 0.2, 0.2, 0.1, 0, 0, 0, 0, 0, 0, 0, 0, 0, 0.2, 0.5, 0.3, 0.2, 0.3, 0.5, 0.5, 0.4, 0.3, 0]
pr_30 = [0, 0, 0, 0, 0, 0, 0.2, 0.5, 0.6, 0.4, 0.4, 0.4, 0.3, 0.2, 0.2, 0.2, 0.2, 0.1, 0, 0, 0, 0, 0, 0, 0, 0, 0, 0.3, 0.7, 0.4, 0.2, 0.3, 0.5, 0.5, 0.4, 0.3, 0]

t850_perts = [t850_01, t850_02, t850_03, t850_04, t850_05, t850_06, t850_07, t850_08, t850_09, t850_10,
              t850_11, t850_12, t850_13, t850_14, t850_15, t850_16, t850_17, t850_18, t850_19, t850_20,
              t850_21, t850_22, t850_23, t850_24, t850_25, t850_26, t850_27, t850_28, t850_29, t850_30]
t500_perts = [t500_01, t500_02, t500_03, t500_04, t500_05, t500_06, t500_07, t500_08, t500_09, t500_10,
              t500_11, t500_12, t500_13, t500_14, t500_15, t500_16, t500_17, t500_18, t500_19, t500_20,
              t500_21, t500_22, t500_23, t500_24, t500_25, t500_26, t500_27, t500_28, t500_29, t500_30]
pr_perts = [pr_01, pr_02, pr_03, pr_04, pr_05, pr_06, pr_07, pr_08, pr_09, pr_10,
            pr_11, pr_12, pr_13, pr_14, pr_15, pr_16, pr_17, pr_18, pr_19, pr_20,
            pr_21, pr_22, pr_23, pr_24, pr_25, pr_26, pr_27, pr_28, pr_29, pr_30]

# ---------------- drawing ----------------
W, H = 740, 700
MONO = "DejaVu Sans Mono"
PR_BASE = -45.0

fig = plt.figure(figsize=(W / 100, H / 100), dpi=100)
fig.patch.set_facecolor("white")
ax = fig.add_axes([50 / W, 100 / H, 640 / W, 600 / H])
ax.set_xlim(0, 16)
ax.set_ylim(-45 - 53 / 7, 30 + 22 / 7)
ax.set_xticks([])
ax.set_yticks([])
for s in ("top", "left", "right"):
    ax.spines[s].set_visible(False)
ax.spines["bottom"].set_color("black")
ax.spines["bottom"].set_linewidth(1.4)


def px(x, y):
    return x / W, 1 - y / H


# grid
for d in range(len(dates)):
    ax.axvline(d, color="#C0C0C0", lw=1.2, zorder=0)
for v in range(30, -50, -5):
    if v == 0:
        ax.axhline(0.22, color="#8C8C8C", lw=1.0, zorder=0)
        ax.axhline(-0.2, color="#A8A8A8", lw=1.3, zorder=0)
    else:
        ax.axhline(v, color="#C0C0C0", lw=2.2 if v % 10 == 0 else 1.0, zorder=0)

d6 = [h / 24 for h in hours6]
d12 = [h / 24 for h in hours12]
dpr = [h / 24 for h in hours_pr_pert]

mk = dict(marker="D", ms=1.8, mew=0, lw=0.8)
for i in range(30):
    c = pert_colors[i]
    ax.plot(d12, t850_perts[i], color=c, zorder=2, **mk)
    ax.plot(d12, t500_perts[i], color=c, zorder=2, **mk)
    ax.plot(dpr, [PR_BASE + p for p in pr_perts[i]], color=c, zorder=2, **mk)

ax.plot(d6, gfs850, color="black", lw=2.4, zorder=3)
ax.plot(d6, gfs500, color="black", lw=2.4, zorder=3)
ax.plot(d6, [PR_BASE + p for p in gfs_pr], color="black", lw=2.4, zorder=3)
ax.plot(d6, ctrl850, color="#0000FF", lw=2.4, zorder=4)
ax.plot(d6, ctrl500, color="#0000FF", lw=2.4, zorder=4)
ax.plot(d6, [PR_BASE + p for p in ctrl_pr], color="#0000FF", lw=2.4, zorder=4)
ax.plot(d6, mean850, color="#FF0000", lw=4.3, zorder=5, solid_capstyle="butt")
ax.plot(d6, mean500, color="#FF0000", lw=4.3, zorder=5, solid_capstyle="butt")
ax.plot(d6, [PR_BASE + p for p in mean_pr], color="#FF0000", lw=4.3, zorder=5,
        solid_capstyle="butt")

# panel titles
fig.text(*px(60, 20), "Temp. 850hPa", family=MONO, size=7.2, va="center", ha="left")
fig.text(*px(60, 271), "Temp. 500hPa", family=MONO, size=7.2, va="center", ha="left")
fig.text(*px(60, 537), "Précipitations", family=MONO, size=7.2, va="center", ha="left")

# left / right scale labels
for v in range(30, -50, -5):
    y = 232 - 7 * v + 1.5
    fig.text(*px(20, y), str(v), family=MONO, size=7.4, va="center", ha="left")
    fig.text(*px(718, y), str(v + 45), family=MONO, size=7.4, va="center", ha="right")

# date labels
for d, lab in enumerate(dates):
    fig.text(*px(50 + 40 * d + 2, 602), lab, family=MONO, size=7.0, rotation=90,
             ha="left", va="top")

fig.text(*px(20, 606), "(°C)", family=MONO, size=7.0, va="center", ha="left")
fig.text(*px(9, 623.5), "Alt. 0m", family=MONO, size=7.0, va="center", ha="left")
fig.text(*px(712, 606.5), "(mm)", family=MONO, size=7.0, va="center", ha="left")

# legend
def hline(x0, x1, y, color, lw):
    fig.add_artist(Line2D([x0 / W, x1 / W], [1 - y / H, 1 - y / H], color=color, lw=lw,
                          solid_capstyle="butt"))

hline(35, 65, 637, "#FF0000", 3.3)
fig.text(*px(75, 637.5), "Moyenne des scénarios", family=MONO, size=7.2, va="center")
hline(225, 255, 637, "#0000FF", 3.3)
fig.text(*px(265, 637.5), "Run de contrôle", family=MONO, size=7.2, va="center")
hline(225, 255, 647, "#000000", 3.3)
fig.text(*px(265, 647.5), "Run GFS", family=MONO, size=7.2, va="center")
fig.text(*px(60, 657.5), "❄", family="DejaVu Sans", size=8.5, va="center", ha="center",
         color="#4A9BE0")
fig.text(*px(75, 659), "Risque neige", family=MONO, size=7.2, va="center")
fig.text(*px(340, 652.5), "30 Perts.", family=MONO, size=7.2, va="center")

for i in range(30):
    x0 = 400 + 11 * i
    fig.text(*px(x0 + 5, 643.5), pert_labels[i], family=MONO, size=5.4, weight="bold",
             va="center", ha="center")
    fig.add_artist(Rectangle(px(x0, 656), 10 / W, 6.5 / H, facecolor=pert_colors[i],
                             edgecolor="none"))

# title box
fig.add_artist(Rectangle(px(20.5, 698.5), 419.5 / W, 31.5 / H, facecolor="white",
                         edgecolor="black", lw=1.0))
fig.text(*px(30, 677.5), "Diagramme des ensembles GEFS sur 384h : 40.5N 13.5E",
         family=MONO, size=8.2, weight="bold", va="center")
fig.text(*px(30, 691.5), "Températures 850hPa et 500hPa (°C) , précipitations (mm)",
         family=MONO, size=7.2, va="center")
fig.text(*px(450, 675.5), "Ensemble GEFS du 26/08/2026 - 00Z", family=MONO, size=7.2,
         va="center")
fig.text(*px(450, 691.5), "Copyright 2026 Meteociel.fr", family=MONO, size=8.2,
         weight="bold", va="center")

fig.savefig("out.png", dpi=100)
